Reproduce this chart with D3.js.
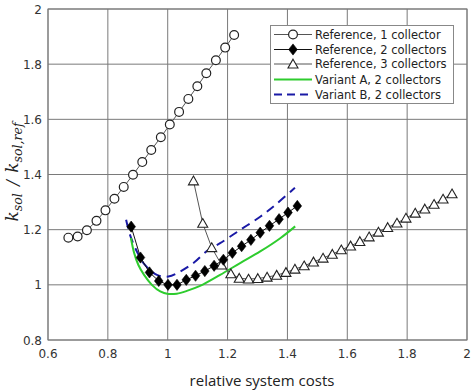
<!DOCTYPE html>
<html lang="en">
  <head>
    <meta charset="UTF-8" />
    <title>relative system costs</title>
    <script src="https://d3js.org/d3.v7.min.js"></script>
    <style>
      body { margin: 0; background: #fff; }
      .tick-label { font-family: "DejaVu Sans", sans-serif; font-size: 12px; fill: #333; }
      .legend-text { font-family: "DejaVu Sans", sans-serif; font-size: 11.5px; fill: #222; }
    </style>
  </head>
  <body>
    <svg id="chart" width="476" height="390"></svg>
    <script>
      // data
      let refOneX = [0.668, 0.699, 0.730, 0.762, 0.792, 0.822, 0.853, 0.884, 0.915, 0.945,
                     0.977, 1.007, 1.038, 1.069, 1.099, 1.129, 1.161, 1.192, 1.222];
      let refOneY = [1.171, 1.175, 1.198, 1.232, 1.270, 1.312, 1.355, 1.399, 1.445, 1.489,
                     1.535, 1.581, 1.627, 1.674, 1.720, 1.767, 1.814, 1.860, 1.906];

      let refTwoX = [0.878, 0.909, 0.939, 0.970, 1.001, 1.031, 1.062, 1.093, 1.124, 1.155,
                     1.186, 1.216, 1.247, 1.278, 1.309, 1.340, 1.372, 1.402, 1.433];
      let refTwoY = [1.211, 1.099, 1.045, 1.014, 1.000, 1.000, 1.018, 1.033, 1.050, 1.069,
                     1.091, 1.116, 1.140, 1.163, 1.189, 1.214, 1.238, 1.262, 1.286];

      let refThreeX = [1.086, 1.117, 1.147, 1.180, 1.211, 1.239, 1.270, 1.301, 1.332, 1.364,
                       1.395, 1.425, 1.456, 1.487, 1.519, 1.550, 1.580, 1.611, 1.642, 1.673,
                       1.704, 1.735, 1.766, 1.796, 1.827, 1.859, 1.890, 1.920, 1.950];
      let refThreeY = [1.377, 1.223, 1.135, 1.072, 1.040, 1.024, 1.021, 1.023, 1.028, 1.035,
                       1.045, 1.057, 1.069, 1.083, 1.097, 1.111, 1.127, 1.141, 1.157, 1.174,
                       1.191, 1.208, 1.224, 1.242, 1.260, 1.275, 1.292, 1.311, 1.330];

      let variantAX = [0.877, 0.888, 0.902, 0.921, 0.947, 0.975, 1.002, 1.030, 1.064, 1.108,
                       1.175, 1.242, 1.309, 1.376, 1.426];
      let variantAY = [1.170, 1.115, 1.072, 1.036, 1.000, 0.976, 0.967, 0.968, 0.978, 0.996,
                       1.036, 1.079, 1.121, 1.169, 1.212];

      let variantBX = [0.861, 0.874, 0.897, 0.924, 0.964, 1.002, 1.041, 1.086, 1.136, 1.175,
                       1.242, 1.309, 1.360, 1.425];
      let variantBY = [1.236, 1.181, 1.121, 1.072, 1.036, 1.030, 1.048, 1.079, 1.127, 1.151,
                       1.199, 1.247, 1.290, 1.352];

      let xTicks = [0.6, 0.8, 1, 1.2, 1.4, 1.6, 1.8, 2];
      let yTicks = [0.8, 1, 1.2, 1.4, 1.6, 1.8, 2];
      let legendLabels = ["Reference, 1 collector", "Reference, 2 collectors",
                          "Reference, 3 collectors", "Variant A, 2 collectors",
                          "Variant B, 2 collectors"];

      let margin = { left: 48, top: 9, right: 9, bottom: 50 };
      let width = 476, height = 390;
      let svg = d3.select("#chart");

      let x = d3.scaleLinear().domain([0.6, 2]).range([margin.left, width - margin.right]);
      let y = d3.scaleLinear().domain([0.8, 2]).range([height - margin.bottom, margin.top]);

      // grid
      let grid = svg.append("g");
      grid.selectAll(".gx").data(xTicks).enter().append("line")
        .attr("x1", d => x(d)).attr("x2", d => x(d))
        .attr("y1", y(0.8)).attr("y2", y(2))
        .attr("stroke", "#7a7a7a").attr("stroke-width", 1);
      grid.selectAll(".gy").data(yTicks).enter().append("line")
        .attr("y1", d => y(d)).attr("y2", d => y(d))
        .attr("x1", x(0.6)).attr("x2", x(2))
        .attr("stroke", "#7a7a7a").attr("stroke-width", 1);

      // tick labels
      svg.selectAll(".xl").data(xTicks).enter().append("text")
        .attr("class", "tick-label")
        .attr("x", d => x(d)).attr("y", y(0.8) + 18)
        .attr("text-anchor", "middle")
        .text(d => d3.format("~g")(d));
      svg.selectAll(".yl").data(yTicks).enter().append("text")
        .attr("class", "tick-label")
        .attr("x", x(0.6) - 6).attr("y", d => y(d) + 4.5)
        .attr("text-anchor", "end")
        .text(d => d3.format("~g")(d));

      // axis titles
      svg.append("text")
        .attr("x", 262).attr("y", 386)
        .attr("text-anchor", "middle")
        .style("font-family", "'Open Sans', sans-serif")
        .style("font-size", "15px")
        .style("fill", "#222")
        .text("relative system costs");

      let yTitle = svg.append("text")
        .attr("transform", "translate(18,172) rotate(-90)")
        .attr("text-anchor", "middle")
        .style("font-family", "'DejaVu Serif', serif")
        .style("font-style", "italic")
        .style("font-size", "17px")
        .style("fill", "#222");
      yTitle.append("tspan").text("k");
      yTitle.append("tspan").attr("dy", 4).style("font-size", "12.5px").text("sol");
      yTitle.append("tspan").attr("dy", -4).attr("dx", 2).style("font-weight", "300").text(" / ");
      yTitle.append("tspan").attr("dx", 2).text("k");
      yTitle.append("tspan").attr("dy", 4).style("font-size", "12.5px").text("sol,ref");

      let line = d3.line().x(d => x(d[0])).y(d => y(d[1]));
      let smooth = d3.line().x(d => x(d[0])).y(d => y(d[1])).curve(d3.curveCatmullRom);
      let zip = (a, b) => a.map((v, i) => [v, b[i]]);

      let diamond = "M0,-5.6L4.3,0L0,5.6L-4.3,0Z";
      let triangle = "M0,-4.8L5,4L-5,4Z";

      let plot = svg.append("g");

      // reference, 1 collector
      let r1 = zip(refOneX, refOneY);
      plot.append("path").attr("d", line(r1)).attr("fill", "none")
        .attr("stroke", "#555").attr("stroke-width", 1);
      plot.selectAll(".c1").data(r1).enter().append("circle")
        .attr("cx", d => x(d[0])).attr("cy", d => y(d[1])).attr("r", 4.4)
        .attr("fill", "#fff").attr("stroke", "#222").attr("stroke-width", 1.2);

      // variant B
      plot.append("path").attr("d", smooth(zip(variantBX, variantBY))).attr("fill", "none")
        .attr("stroke", "#1a1aa6").attr("stroke-width", 2)
        .attr("stroke-dasharray", "9,6");

      // variant A
      plot.append("path").attr("d", smooth(zip(variantAX, variantAY))).attr("fill", "none")
        .attr("stroke", "#2ecc2e").attr("stroke-width", 2);

      // reference, 3 collectors
      let r3 = zip(refThreeX, refThreeY);
      plot.append("path").attr("d", line(r3)).attr("fill", "none")
        .attr("stroke", "#555").attr("stroke-width", 1);
      plot.selectAll(".t3").data(r3).enter().append("path")
        .attr("d", triangle)
        .attr("transform", d => `translate(${x(d[0])},${y(d[1])})`)
        .attr("fill", "#fff").attr("stroke", "#222").attr("stroke-width", 1.1);

      // reference, 2 collectors
      let r2 = zip(refTwoX, refTwoY);
      plot.append("path").attr("d", line(r2)).attr("fill", "none")
        .attr("stroke", "#111").attr("stroke-width", 1);
      plot.selectAll(".d2").data(r2).enter().append("path")
        .attr("d", diamond)
        .attr("transform", d => `translate(${x(d[0])},${y(d[1])})`)
        .attr("fill", "#000").attr("stroke", "#000").attr("stroke-width", 0.6);

      // axes border
      svg.append("rect")
        .attr("x", x(0.6)).attr("y", y(2))
        .attr("width", x(2) - x(0.6)).attr("height", y(0.8) - y(2))
        .attr("fill", "none").attr("stroke", "#7a7a7a").attr("stroke-width", 1);

      // legend
      let legend = svg.append("g");
      legend.append("rect")
        .attr("x", 270.5).attr("y", 25.5).attr("width", 183).attr("height", 78)
        .attr("fill", "#fff").attr("stroke", "#888").attr("stroke-width", 1);
      let rowY = [34.5, 49.5, 64, 79.5, 94.5];
      let styles = [
        { stroke: "#555", w: 1, dash: null, marker: "circle" },
        { stroke: "#111", w: 1, dash: null, marker: "diamond" },
        { stroke: "#555", w: 1, dash: null, marker: "triangle" },
        { stroke: "#2ecc2e", w: 2, dash: null, marker: null },
        { stroke: "#1a1aa6", w: 2, dash: "8,5", marker: null }
      ];
      legendLabels.forEach((label, i) => {
        let s = styles[i];
        let ly = rowY[i];
        let l = legend.append("line")
          .attr("x1", 274).attr("x2", 312).attr("y1", ly).attr("y2", ly)
          .attr("stroke", s.stroke).attr("stroke-width", s.w);
        if (s.dash) l.attr("stroke-dasharray", s.dash);
        if (s.marker === "circle") {
          legend.append("circle").attr("cx", 293).attr("cy", ly).attr("r", 4.4)
            .attr("fill", "#fff").attr("stroke", "#222").attr("stroke-width", 1.2);
        } else if (s.marker === "diamond") {
          legend.append("path").attr("d", diamond).attr("transform", `translate(293,${ly})`)
            .attr("fill", "#000").attr("stroke", "#000").attr("stroke-width", 0.6);
        } else if (s.marker === "triangle") {
          legend.append("path").attr("d", triangle).attr("transform", `translate(293,${ly})`)
            .attr("fill", "#fff").attr("stroke", "#222").attr("stroke-width", 1.1);
        }
        legend.append("text").attr("class", "legend-text")
          .attr("x", 315).attr("y", ly + 4)
          .text(label);
      });
    </script>
  </body>
</html>
